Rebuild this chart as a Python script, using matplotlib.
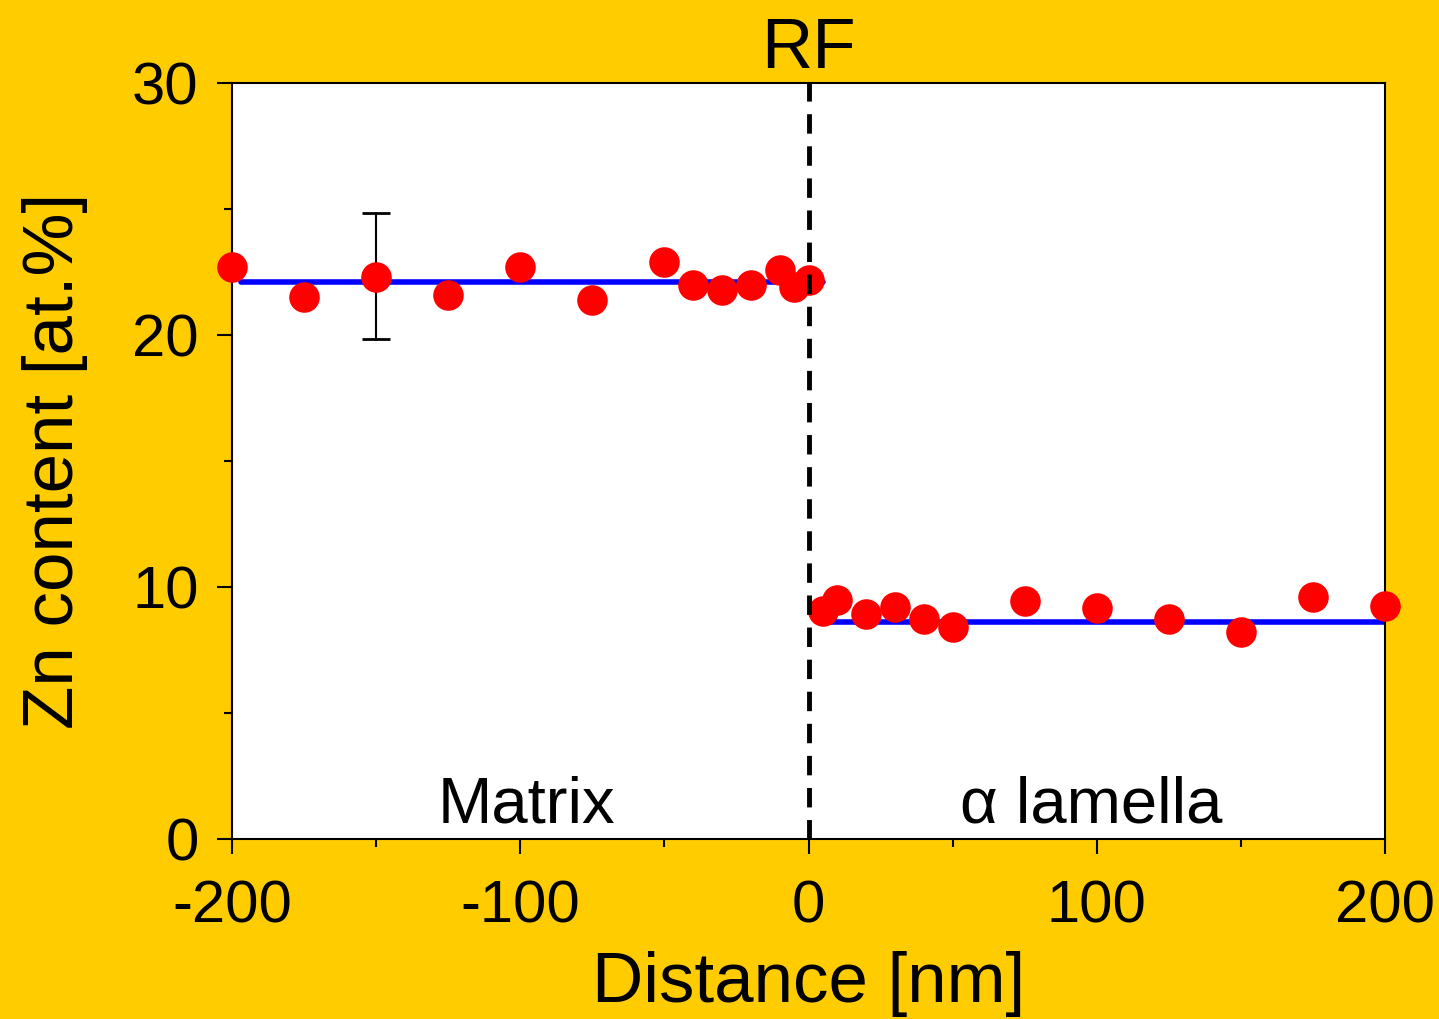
import matplotlib.pyplot as plt
import numpy as np

plt.rcParams['font.family'] = ['Liberation Sans', 'DejaVu Sans']
plt.rcParams['axes.unicode_minus'] = False

# matrix side
x_matrix = [-200, -175, -150, -125, -100, -75, -50, -40, -30, -20, -10, -5, 0]
zn_matrix = [22.7, 21.5, 22.3, 21.6, 22.7, 21.4, 22.9, 22.0, 21.8, 22.0, 22.6, 21.9, 22.2]
# alpha lamella side
x_lam = [5, 10, 20, 30, 40, 50, 75, 100, 125, 150, 175, 200]
zn_lam = [9.05, 9.5, 8.93, 9.2, 8.73, 8.41, 9.44, 9.17, 8.73, 8.21, 9.6, 9.25]

# mean levels
fit_x_matrix = [-197, 5]
fit_y_matrix = [22.1, 22.1]
fit_x_lam = [5, 200]
fit_y_lam = [8.6, 8.6]

# error bar example
err_x = [-150]
err_y = [22.35]
err_size = [2.5]

bg = '#FFCC00'
fig = plt.figure(figsize=(14.39, 10.19), dpi=100, facecolor=bg)
ax = fig.add_axes([0.1612, 0.1766, 0.8013, 0.7419])
ax.set_facecolor('white')

ax.plot(fit_x_matrix, fit_y_matrix, color='blue', lw=4, solid_capstyle='round', zorder=2)
ax.plot(fit_x_lam, fit_y_lam, color='blue', lw=4, solid_capstyle='round', zorder=2)
ax.errorbar(err_x, err_y, yerr=err_size, fmt='none', ecolor='black', elinewidth=1.5,
            capsize=10, capthick=2, zorder=3)
ax.plot(x_matrix, zn_matrix, 'o', color='red', ms=22, mec='none', zorder=4, clip_on=False)
ax.plot(x_lam, zn_lam, 'o', color='red', ms=22, mec='none', zorder=4, clip_on=False)
ax.axvline(0, color='black', lw=3.5, ls=(0, (4, 2.6)), zorder=5)

ax.set_xlim(-200, 200)
ax.set_ylim(0, 30)
ax.set_xticks([-200, -100, 0, 100, 200])
ax.set_xticks([-150, -50, 50, 150], minor=True)
ax.set_yticks([0, 10, 20, 30])
ax.set_yticks([5, 15, 25], minor=True)
ax.tick_params(which='major', direction='out', length=11, width=1.5, labelsize=43, pad=13)
ax.tick_params(which='minor', direction='out', length=6, width=1.5)
ax.tick_params(axis='x', which='major', pad=18)
for s in ax.spines.values():
    s.set_linewidth(1.5)

ax.set_xlabel('Distance [nm]', fontsize=51, labelpad=12)
ax.set_ylabel('Zn content [at.%]', fontsize=51, labelpad=32)
ax.set_title('RF', fontsize=51, pad=4)

ax.text(-98, 0.67, 'Matrix', fontsize=47, ha='center', va='baseline')
ax.text(98, 0.67, 'α lamella', fontsize=47, ha='center', va='baseline')

fig.savefig('out.png', dpi=100, facecolor=bg)
